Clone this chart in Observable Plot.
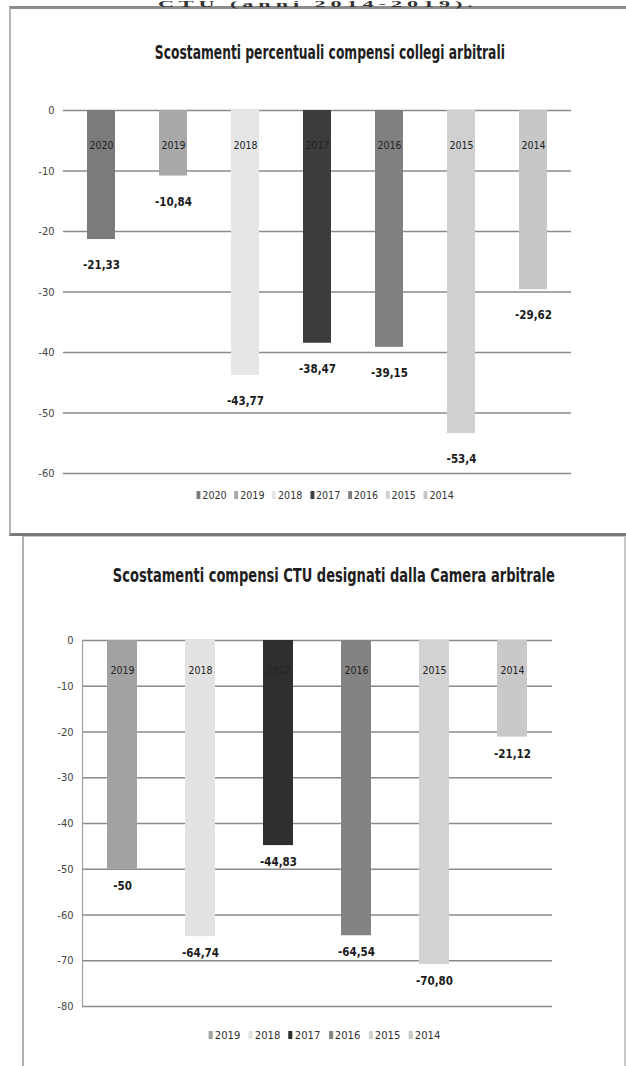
<!DOCTYPE html>
<html>
<head>
<meta charset="utf-8">
<script src="https://cdn.jsdelivr.net/npm/d3@7"></script>
<script src="https://cdn.jsdelivr.net/npm/@observablehq/plot@0.6"></script>
<style>
  html, body { margin: 0; padding: 0; background: #fff; }
  body { width: 626px; height: 1066px; position: relative; overflow: hidden; font-family: 'Liberation Sans Narrow', 'DejaVu Sans Condensed', sans-serif; }
  .abs { position: absolute; }
  .frame1 { left: 9px; top: 6px; width: 640px; height: 524px; border-top: 3px solid #8c8c8c; border-left: 2px solid #b5b5b5; border-bottom: 3px solid #7a7a7a; }
  .frame2 { left: 22px; top: 536px; width: 600px; height: 540px; border-top: 1px solid #c8c8c8; border-left: 2px solid #b0b0b0; border-right: 2px solid #c8c8c8; }
  .title { font-weight: bold; color: #1e1e1e; white-space: nowrap; transform-origin: center center; }
  .legend { display: flex; align-items: center; white-space: nowrap; font-size: 11px; color: #333; transform-origin: center center; }
  .legend span.item { display: inline-flex; align-items: center; margin: 0 4px; }
  .legend span.sw { display: inline-block; width: 4px; height: 8px; margin-right: 2px; }
  .toptext { font-family: 'Liberation Serif', serif; font-weight: bold; font-size: 9px; line-height: 9px; letter-spacing: 2px; color: #333; white-space: nowrap; transform-origin: center center; }
</style>
</head>
<body>
<script>
// ---- data: chart 1 ----
const years1 = ["2020", "2019", "2018", "2017", "2016", "2015", "2014"];
const values1 = [-21.33, -10.84, -43.77, -38.47, -39.15, -53.4, -29.62];
const labels1 = ["-21,33", "-10,84", "-43,77", "-38,47", "-39,15", "-53,4", "-29,62"];
const colors1 = ["#7b7b7b", "#a9a9a9", "#e6e6e6", "#3c3c3c", "#808080", "#d0d0d0", "#c7c7c7"];
const ticks1 = [0, -10, -20, -30, -40, -50, -60];
const title1 = "Scostamenti percentuali compensi collegi arbitrali";

// ---- data: chart 2 ----
const years2 = ["2019", "2018", "2017", "2016", "2015", "2014"];
const values2 = [-50, -64.74, -44.83, -64.54, -70.80, -21.12];
const labels2 = ["-50", "-64,74", "-44,83", "-64,54", "-70,80", "-21,12"];
const colors2 = ["#a2a2a2", "#e2e2e2", "#2f2f2f", "#838383", "#d2d2d2", "#c9c9c9"];
const ticks2 = [0, -10, -20, -30, -40, -50, -60, -70, -80];
const title2 = "Scostamenti compensi CTU designati dalla Camera arbitrale";

const topText = "CTU (anni 2014-2019).";

const FONT = "'Liberation Sans Narrow', 'DejaVu Sans Condensed', sans-serif";

function el(tag, cls, css, text) {
  const e = document.createElement(tag);
  if (cls) e.className = cls;
  if (css) Object.assign(e.style, css);
  if (text != null) e.textContent = text;
  document.body.appendChild(e);
  return e;
}

// center an absolutely positioned element at (cx, cy), optionally squeezed to width w
function place(e, cx, cy, w) {
  const r = e.getBoundingClientRect();
  const s = w ? w / r.width : 1;
  e.style.left = (cx - r.width / 2) + "px";
  e.style.top = (cy - r.height / 2) + "px";
  if (w) e.style.transform = `scaleX(${s})`;
}

el("div", "abs frame1");
el("div", "abs frame2");

const tt = el("div", "abs toptext", {}, topText);
place(tt, 318, 1, 320);
tt.style.top = "0px";

function chart({years, values, labels, colors, ticks, top, mLeft, mRight, plotH, yearDy, labelDy, axisLine, padInner}) {
  const data = years.map((y, i) => ({year: y, value: values[i], label: labels[i]}));
  const p = Plot.plot({
    width: 626,
    height: 20 + plotH + 10,
    marginTop: 20,
    marginBottom: 10,
    marginLeft: mLeft,
    marginRight: mRight,
    style: {fontFamily: FONT, background: "transparent", overflow: "visible"},
    x: {domain: years, paddingInner: padInner, paddingOuter: padInner / 2, axis: null},
    y: {domain: [ticks[ticks.length - 1], 0], axis: null},
    color: {domain: years, range: colors},
    marks: [
      Plot.ruleY(ticks, {stroke: "#8a8a8a", strokeWidth: 1.6}),
      axisLine ? Plot.frame({anchor: "left", stroke: "#a0a0a0", strokeWidth: 1.2}) : null,
      Plot.barY(data, {x: "year", y: "value", fill: "year"}),
      Plot.axisY(ticks, {tickSize: 0, tickPadding: 9, tickFormat: d => String(d), label: null, fontSize: 11, fill: "#444"}),
      Plot.text(data, {x: "year", y: () => 0, text: "year", dy: yearDy, fontSize: 10.5, fill: "#222"}),
      Plot.text(data, {x: "year", y: "value", text: "label", dy: labelDy, fontSize: 11.5, fill: "#1a1a1a", fontWeight: "bold"})
    ]
  });
  p.style.position = "absolute";
  p.style.left = "0px";
  p.style.top = top + "px";
  document.body.appendChild(p);
}

function legend(years, colors, cx, cy, w) {
  const lg = el("div", "abs legend");
  years.forEach((y, i) => {
    const it = document.createElement("span");
    it.className = "item";
    const sw = document.createElement("span");
    sw.className = "sw";
    sw.style.background = colors[i];
    it.appendChild(sw);
    it.appendChild(document.createTextNode(y));
    lg.appendChild(it);
  });
  place(lg, cx, cy, w);
}

// chart 1
const t1 = el("div", "abs title", {fontSize: "20px", fontFamily: FONT}, title1);
place(t1, 330, 52, 350);
chart({years: years1, values: values1, labels: labels1, colors: colors1, ticks: ticks1,
  top: 90, mLeft: 63, mRight: 55, plotH: 363, yearDy: 35, labelDy: 26, axisLine: false, padInner: 0.61});
legend(years1, colors1, 325, 495, 265);

// chart 2
const t2 = el("div", "abs title", {fontSize: "20px", fontFamily: FONT}, title2);
place(t2, 334, 575, 442);
chart({years: years2, values: values2, labels: labels2, colors: colors2, ticks: ticks2,
  top: 620, mLeft: 82, mRight: 74, plotH: 366, yearDy: 30, labelDy: 17, axisLine: true, padInner: 0.62});
legend(years2, colors2, 325, 1035, 240);
</script>
</body>
</html>
